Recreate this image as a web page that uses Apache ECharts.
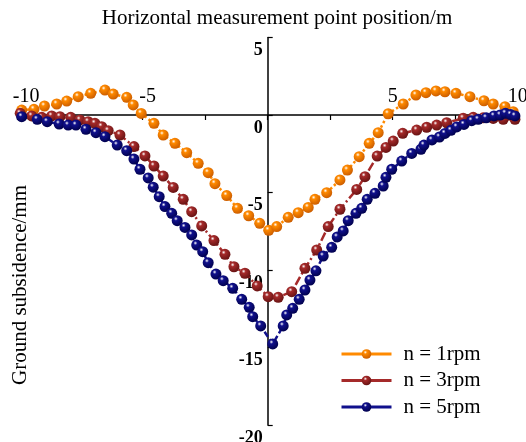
<!DOCTYPE html>
<html>
<head>
<meta charset="utf-8">
<script src="https://cdn.jsdelivr.net/npm/echarts@6/dist/echarts.min.js"></script>
<style>
html,body{margin:0;padding:0;background:#fff;}
#chart{width:526px;height:442px;}
</style>
</head>
<body>
<div id="chart"></div>
<script>
// n = 1rpm
var x1 = [-9.84,-9.35,-8.93,-8.44,-8.04,-7.58,-7.08,-6.51,-6.18,-5.64,-5.38,-5.06,-4.55,-4.18,-3.71,-3.24,-2.78,-2.38,-2.11,-1.64,-1.21,-0.76,-0.32,0.04,0.36,0.82,1.22,1.62,1.89,2.36,2.89,3.19,3.66,4.06,4.42,4.82,5.42,5.93,6.33,6.73,7.09,7.53,8.09,8.65,9.02,9.49,9.82];
var y1 = [0.32,0.37,0.58,0.71,0.9,1.18,1.4,1.61,1.35,1.14,0.65,0.1,-0.54,-1.29,-1.83,-2.43,-3.12,-3.72,-4.43,-5.2,-6.02,-6.5,-6.99,-7.44,-7.2,-6.6,-6.3,-5.96,-5.44,-5.01,-4.19,-3.55,-2.69,-1.83,-1.14,0.08,0.71,1.29,1.44,1.55,1.5,1.4,1.18,0.92,0.71,0.54,0.21];
// n = 3rpm
var x2 = [-9.9,-9.44,-9.04,-8.64,-8.31,-7.88,-7.51,-7.18,-6.91,-6.64,-6.38,-5.91,-5.35,-4.91,-4.55,-4.18,-3.78,-3.38,-3.04,-2.64,-2.15,-1.71,-1.35,-0.91,-0.42,0.02,0.42,0.96,1.49,1.96,2.42,2.89,3.56,3.89,4.38,4.73,5.02,5.4,5.96,6.36,6.76,7.16,7.82,8.22,8.62,9.02,9.42,9.89];
var y2 = [0.11,-0.06,-0.15,-0.06,-0.11,-0.15,-0.32,-0.43,-0.54,-0.75,-1.01,-1.29,-2.04,-2.64,-3.29,-3.94,-4.67,-5.44,-6.24,-7.16,-8.1,-8.99,-9.79,-10.21,-11.03,-11.72,-11.76,-11.4,-9.89,-8.71,-7.2,-6.08,-4.8,-3.98,-2.65,-2.09,-1.68,-1.18,-0.97,-0.79,-0.65,-0.5,-0.21,-0.15,-0.18,-0.22,-0.28,-0.28];
// n = 5rpm
var x3 = [-9.84,-9.22,-8.82,-8.34,-7.98,-7.67,-7.27,-6.87,-6.51,-6.02,-5.64,-5.35,-5.11,-4.78,-4.58,-4.34,-4.11,-3.84,-3.62,-3.31,-3.04,-2.84,-2.6,-2.38,-2.07,-1.78,-1.4,-1.04,-0.74,-0.6,-0.28,0.2,0.62,0.76,1.0,1.26,1.49,1.69,1.93,2.22,2.56,2.78,3.02,3.22,3.53,3.76,3.98,4.29,4.62,4.73,4.96,5.36,5.76,6.13,6.25,6.57,6.87,7.09,7.33,7.56,7.85,8.16,8.42,8.74,9.05,9.3,9.51,9.72,9.89];
var y3 = [-0.11,-0.28,-0.43,-0.58,-0.65,-0.65,-0.92,-1.14,-1.4,-1.94,-2.3,-2.84,-3.5,-4.06,-4.66,-5.27,-5.91,-6.34,-6.82,-7.25,-7.74,-8.39,-8.82,-9.53,-10.26,-10.69,-11.18,-11.89,-12.41,-13.01,-13.61,-14.77,-13.61,-12.9,-12.47,-11.89,-11.29,-10.65,-10.05,-9.1,-8.54,-7.87,-7.48,-6.82,-6.34,-6.02,-5.44,-5.05,-4.58,-4.02,-3.5,-2.97,-2.48,-2.21,-1.94,-1.61,-1.42,-1.19,-0.99,-0.77,-0.61,-0.37,-0.28,-0.18,-0.06,0,0.11,0.03,-0.06];

var names = ['n = 1rpm','n = 3rpm','n = 5rpm'];
var xTickLabels = [-10,-5,5,10];
var FONT = '"Liberation Serif","Times New Roman",serif';

function zip(xs, ys){
    var out = [];
    for (var i = 0; i < xs.length; i++) out.push([xs[i], ys[i]]);
    return out;
}

function ball(base, dark){
    return {
        type:'radial', x:0.38, y:0.32, r:0.72,
        colorStops:[
            {offset:0, color:'#ffffff'},
            {offset:0.25, color:base},
            {offset:1, color:dark}
        ]
    };
}

function makeSeries(name, data, base, dark, dash){
    return {
        name:name,
        type:'line',
        data:data,
        symbol:'circle',
        symbolSize:11,
        itemStyle:{color:ball(base, dark)},
        lineStyle:{color:base, width:2.5, type:dash},
        emphasis:{disabled:true},
        z:3
    };
}

// grid: x -10..10 -> 17.7..517.7 px, y 5..-20 -> 37.5..425 px
// axes are shifted to cross at (0,0) with offsets, so labels move with them
var chart = echarts.init(document.getElementById('chart'));
var option = {
    animation:false,
    grid:{left:17.7, right:8.3, top:37.5, bottom:17, outerBoundsMode:'none', containLabel:false},
    graphic:[
        {type:'text', x:277, y:18,
         style:{text:'Horizontal measurement point position/m', font:'21px ' + FONT, fill:'#000', align:'center', verticalAlign:'middle'}},
        {type:'text', x:20, y:285, rotation:Math.PI/2,
         style:{text:'Ground subsidence/mm', font:'21px ' + FONT, fill:'#000', align:'center', verticalAlign:'middle'}}
    ],
    legend:{
        orient:'vertical',
        left:335, top:337,
        itemWidth:50, itemHeight:12, itemGap:2.5,
        data:names,
        lineStyle:{type:'solid', width:3},
        textStyle:{fontFamily:FONT, fontSize:21, lineHeight:24, color:'#000', padding:[0,0,0,7]}
    },
    xAxis:{
        type:'value', min:-10, max:10, interval:2.5,
        position:'top', offset:-77.5,
        axisLine:{onZero:false, lineStyle:{color:'#000', width:1.5}},
        axisTick:{inside:true, length:5, lineStyle:{color:'#000', width:1.2}},
        axisLabel:{
            margin:8, fontFamily:FONT, fontSize:20, color:'#000',
            formatter:function(v){
                if (xTickLabels.indexOf(v) < 0) return '';
                if (v === -10) return '{a|' + v + '}';
                if (v === -5) return '{b|' + v + '}';
                return String(v);
            },
            rich:{
                a:{fontFamily:FONT, fontSize:20, color:'#000', padding:[0,0,0,17]},
                b:{fontFamily:FONT, fontSize:20, color:'#000', padding:[0,0,0,10]}
            }
        },
        splitLine:{show:false}
    },
    yAxis:{
        type:'value', min:-20, max:5, interval:5,
        position:'left', offset:-250,
        axisLine:{onZero:false, lineStyle:{color:'#000', width:1.5}},
        axisTick:{inside:true, length:5, lineStyle:{color:'#000', width:1.2}},
        axisLabel:{
            margin:5, fontFamily:FONT, fontSize:18, fontWeight:'bold', color:'#000',
            verticalAlign:'top', padding:[4,0,0,0]
        },
        splitLine:{show:false}
    },
    series:[
        makeSeries(names[0], zip(x1, y1), '#ff8a00', '#c85a00', 'dotted'),
        makeSeries(names[1], zip(x2, y2), '#a52a2a', '#641212', [9,3,2,3]),
        makeSeries(names[2], zip(x3, y3), '#10108c', '#00004a', [6,3])
    ]
};
chart.setOption(option);
</script>
</body>
</html>
